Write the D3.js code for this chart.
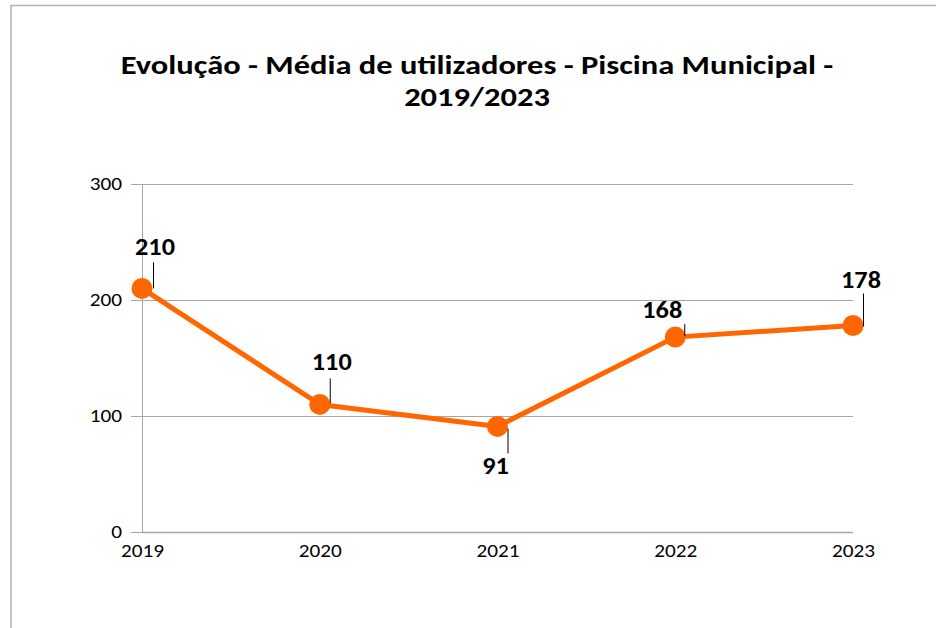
<!DOCTYPE html>
<html lang="pt">
<head>
<meta charset="utf-8">
<title>Evolução - Média de utilizadores - Piscina Municipal</title>
<script src="https://d3js.org/d3.v7.min.js"></script>
<style>
  body { margin: 0; background: #fff; }
  svg text { font-family: Carlito, Lato, "Open Sans", sans-serif; }
</style>
</head>
<body>
<svg id="chart" width="936" height="628"></svg>
<script>
// data
var years = ["2019", "2020", "2021", "2022", "2023"];
var users = [210, 110, 91, 168, 178];
var yTicks = [0, 100, 200, 300];
var titleLines = ["Evolução - Média de utilizadores - Piscina Municipal -", "2019/2023"];

// label placement relative to the point: dx, dy of label baseline, leader line end
var labelPos = [
  { dx: 13, dy: -33, lx: 11, ly0: -26, ly1: 0 },
  { dx: 12, dy: -34, lx: 10, ly0: -26, ly1: -1 },
  { dx: -2, dy: 48, lx: 10, ly0: 2, ly1: 27 },
  { dx: -13, dy: -19, lx: 9, ly0: -13, ly1: -1 },
  { dx: 8, dy: -38, lx: 10, ly0: -32, ly1: 1 }
];

var ORANGE = "#ff6600";
var GRID = "#a6a6a6";
var STRETCH = 1.18; // reference text is drawn a bit wide

var svg = d3.select("#chart");

// chart frame (only top and left edges fall inside the picture)
svg.append("path")
  .attr("d", "M11,936 V5.5 H936")
  .attr("fill", "none")
  .attr("stroke", "#b3b3b3")
  .attr("stroke-width", 1.5);

// title
svg.selectAll("text.title")
  .data(titleLines)
  .join("text")
  .attr("class", "title")
  .attr("transform", function (d, i) {
    return "translate(477," + (74 + i * 32) + ") scale(1.25,1)";
  })
  .attr("text-anchor", "middle")
  .attr("font-size", 26).attr("font-weight", "bold")
  .text(function (d) { return d; });

var x = d3.scalePoint().domain(years).range([142, 853]);
var y = d3.scaleLinear().domain([0, 300]).range([532, 184]);

// y axis with gridlines
var yAxis = svg.append("g")
  .attr("transform", "translate(142,0)")
  .call(d3.axisLeft(y).tickValues(yTicks).tickSize(11).tickPadding(6));
yAxis.select(".domain").attr("stroke", GRID);
yAxis.selectAll(".tick line").attr("stroke", GRID);
yAxis.selectAll(".tick text")
  .attr("font-size", 18).attr("fill", "#000")
  .attr("dy", "0.3em")
  .attr("transform", "scale(" + STRETCH + ",1)");

svg.append("g")
  .selectAll("line")
  .data(yTicks.filter(function (d) { return d > 0; }))
  .join("line")
  .attr("x1", 142).attr("x2", 853)
  .attr("y1", function (d) { return y(d) + 0.5; })
  .attr("y2", function (d) { return y(d) + 0.5; })
  .attr("stroke", GRID);

// x axis
var xAxis = svg.append("g")
  .attr("transform", "translate(0,532)")
  .call(d3.axisBottom(x).tickSize(0).tickPadding(12));
xAxis.select(".domain").attr("stroke", GRID).attr("stroke-width", 1.5)
  .attr("d", "M142,0.5H853");
xAxis.selectAll(".tick text")
  .attr("font-size", 18).attr("fill", "#000")
  .attr("transform", "scale(" + STRETCH + ",1)");

// series line
var line = d3.line()
  .x(function (d, i) { return x(years[i]); })
  .y(function (d) { return y(d); });

svg.append("path")
  .datum(users)
  .attr("d", line)
  .attr("fill", "none")
  .attr("stroke", ORANGE)
  .attr("stroke-width", 5)
  .attr("stroke-linejoin", "round");

svg.append("g")
  .selectAll("circle")
  .data(users)
  .join("circle")
  .attr("cx", function (d, i) { return x(years[i]); })
  .attr("cy", function (d) { return y(d); })
  .attr("r", 10.5)
  .attr("fill", ORANGE);

// leader lines and data labels
var labels = svg.append("g");
users.forEach(function (d, i) {
  var px = x(years[i]), py = y(d), p = labelPos[i];
  labels.append("line")
    .attr("x1", px + p.lx + 0.5).attr("x2", px + p.lx + 0.5)
    .attr("y1", py + p.ly0).attr("y2", py + p.ly1)
    .attr("stroke", "#000").attr("stroke-width", 1);
  labels.append("text")
    .attr("transform", "translate(" + (px + p.dx) + "," + (py + p.dy) + ") scale(1.05,1)")
    .attr("text-anchor", "middle")
    .attr("font-size", 25).attr("font-weight", "bold")
    .text(d);
});
</script>
</body>
</html>
